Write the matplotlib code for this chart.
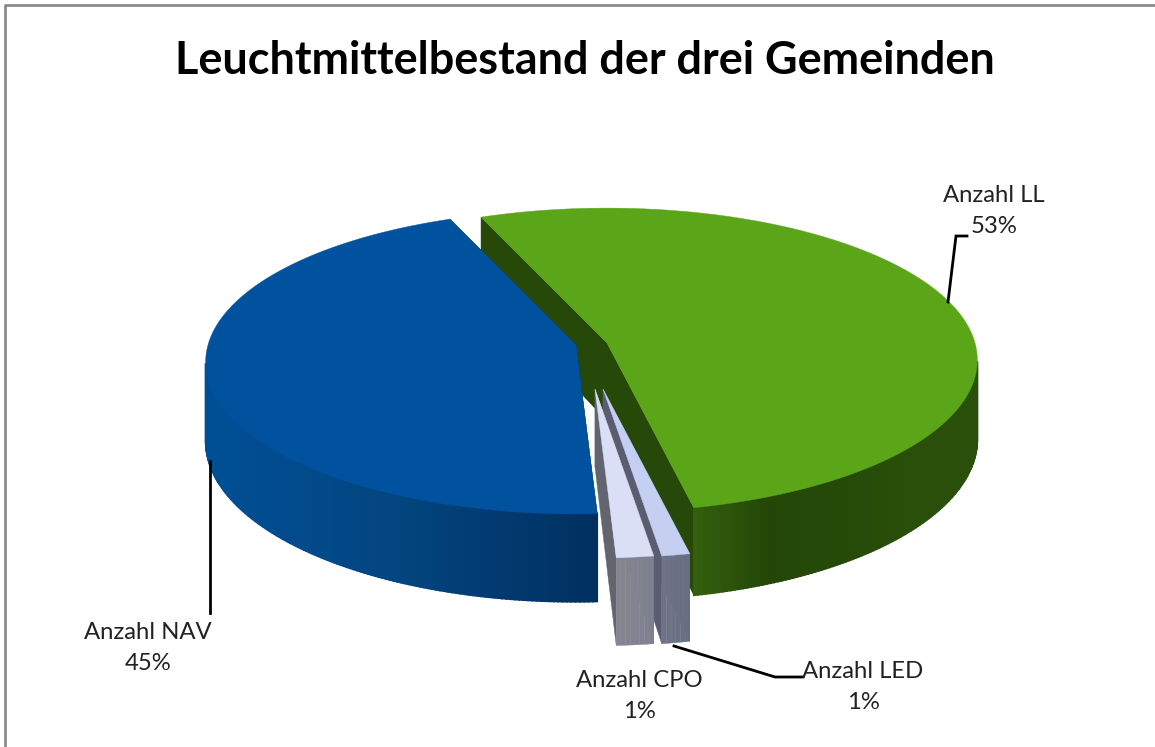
import numpy as np
import matplotlib
matplotlib.use("Agg")
import matplotlib.pyplot as plt
from matplotlib.colors import to_rgb

plt.rcParams['font.family'] = ['Lato', 'DejaVu Sans']

# share of each lamp type, clockwise from the top left
names = ["Anzahl LL", "Anzahl LED", "Anzahl CPO", "Anzahl NAV"]
shares = [52.8, 1.1, 1.45, 44.65]

# look of the slices
top_colors = ["#5aa618", "#c5cff2", "#dbdff5", "#00529f"]
face_colors = ["#264808", "#5a5c70", "#62656f", "#01305f"]
# wall colour runs from the first to the last entry, left to right on screen
wall_colors = [["#33600f", "#244707", "#254a08", "#2a4f0a", "#2a4f0a"],
               ["#6e7388", "#6a6e84"],
               ["#868690", "#7e8090"],
               ["#004f96", "#03457f", "#012f60"]]
# apex of each exploded slice in pixels
apexes = [(607, 343), (603, 389), (595, 389), (576, 345)]
draw_order = [0, 1, 2, 3]

start_bearing = 337.8
rx, ry = 368, 150
persp = 0.112
depth = 78


def project(apex, bearing):
    b = np.radians(bearing)
    s = 1 / (1 + persp * np.cos(b))
    return apex[0] + rx * np.sin(b) * s, apex[1] - ry * np.cos(b) * s, s


fig = plt.figure(figsize=(11.55, 7.47), dpi=100)
ax = fig.add_axes([0, 0, 1, 1])
ax.set_xlim(0, 1155)
ax.set_ylim(747, 0)
ax.axis('off')

# outer frame, only top and left are in the crop
ax.plot([5, 5, 1155], [747, 5, 5], color="#8c8c8c", lw=2)

edges = start_bearing + np.cumsum([0] + shares) * 3.6

for i in draw_order:
    apex = apexes[i]
    bearings = np.linspace(edges[i], edges[i + 1], max(int(shares[i] * 6), 6) + 1)
    x, y, s = project(apex, bearings)
    d = depth * s

    # the two cut faces go first, the wall hides the far one
    for k in [0, -1]:
        ax.fill([apex[0], x[k], x[k], apex[0]],
                [apex[1], y[k], y[k] + d[k], apex[1] + depth],
                color=face_colors[i], lw=0.3)

    # wall, strip by strip so the shade can change
    front = np.cos(np.radians(bearings)) < -persp
    cols = np.array([to_rgb(c) for c in wall_colors[i]])
    stops = np.linspace(x[front].min(), x[front].max(), len(cols))
    for j in range(len(x) - 1):
        if not (front[j] and front[j + 1]):
            continue
        mid = (x[j] + x[j + 1]) / 2
        col = [np.interp(mid, stops, cols[:, k]) for k in range(3)]
        ax.fill([x[j], x[j + 1], x[j + 1], x[j]],
                [y[j], y[j + 1], y[j + 1] + d[j + 1], y[j] + d[j]],
                color=col, lw=1.2 if len(x) > 20 else 0.3)

    # top
    ax.fill(np.r_[apex[0], x], np.r_[apex[1], y], color=top_colors[i], lw=0.3)

# leader lines
ax.plot([948, 956, 967], [302, 236, 236], color="black", lw=2, solid_joinstyle='miter')
ax.plot([210, 210], [461, 613], color="black", lw=2)
ax.plot([674, 775, 803], [646, 677, 677], color="black", lw=2)

label_pos = [(994, 211), (863, 687), (639, 696), (148, 648)]
for name, share, pos in zip(names, shares, label_pos):
    ax.text(pos[0], pos[1], "%s\n%d%%" % (name, round(share)), ha='center', va='center',
            fontsize=17.2, color="#222222", linespacing=1.62)

ax.text(585, 61, "Leuchtmittelbestand der drei Gemeinden", ha='center', va='center',
        fontsize=32.4, fontweight='bold', color="black")

fig.savefig("out.png", dpi=100)
